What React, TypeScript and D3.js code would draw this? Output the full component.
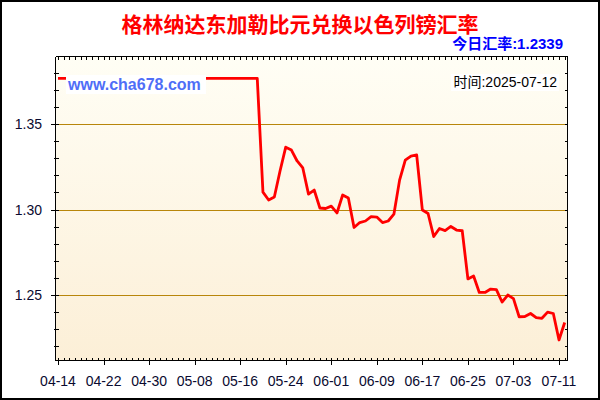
import React from 'react';
import * as d3 from 'd3';

// daily rates, 2025-04-14 .. 2025-07-12
const startDate = '2025-04-14';
const rates = [
  1.3767, 1.3767, 1.3767, 1.3767, 1.3767, 1.3767, 1.3767, 1.3767, 1.3767, 1.3767,
  1.3767, 1.3767, 1.3767, 1.3767, 1.3767, 1.3767, 1.3767, 1.3767, 1.3767, 1.3767,
  1.3767, 1.3767, 1.3767, 1.3767, 1.3767, 1.3767, 1.3767, 1.3767, 1.3767, 1.3767,
  1.3767, 1.3767, 1.3767, 1.3767, 1.3767, 1.3767,
  1.3102, 1.3056, 1.3073, 1.3225, 1.3365, 1.3348, 1.3284, 1.3243, 1.309, 1.3114,
  1.3009, 1.3006, 1.302, 1.298, 1.3085, 1.3067, 1.2895, 1.2924, 1.2933, 1.2959,
  1.2956, 1.2924, 1.2933, 1.2973, 1.3172, 1.3289, 1.3313, 1.3319, 1.2997, 1.2977,
  1.2842, 1.2889, 1.2877, 1.2901, 1.288, 1.2876, 1.2594, 1.2611, 1.2515, 1.2515,
  1.2535, 1.2532, 1.2459, 1.25, 1.2479, 1.2373, 1.2374, 1.2392, 1.2368, 1.2364,
  1.24, 1.2392, 1.2237, 1.2339,
];
const xTickLabels = ['04-14', '04-22', '04-30', '05-08', '05-16', '05-24', '06-01', '06-09', '06-17', '06-25', '07-03', '07-11'];
const yTickLabels = ['1.25', '1.30', '1.35'];
const title = '格林纳达东加勒比元兑换以色列镑汇率';
const todayText = '今日汇率:1.2339';
const siteText = 'www.cha678.com';
const timeText = '时间:2025-07-12';

export default function App() {
  const W = 600;
  const H = 400;
  const left = 55.5;
  const right = 567.5;
  const top = 56.5;
  const bottom = 360.5;

  const start = new Date(startDate + 'T00:00:00Z');
  const dates = rates.map((_, i) => d3.utcDay.offset(start, i));

  const x = d3
    .scaleUtc()
    .domain([start, new Date('2025-07-11T00:00:00Z')])
    .range([58, 559]);
  const y = d3.scaleLinear().domain([1.212, 1.3898]).range([360, 56]);
  // pixel-snapped positions for crisp 1px strokes
  const px = (v: number) => Math.round(v) + 0.5;

  const line = d3
    .line<number>()
    .x((d, i) => x(dates[i]))
    .y((d) => y(d));

  const majorDates = xTickLabels.map((s) => new Date('2025-' + s + 'T00:00:00Z'));
  const yMinor = d3.range(122, 139).map((v) => v / 100);
  const majorY = yTickLabels.map((s) => +s);

  const sans = '"Liberation Sans", Arial, "Noto Sans CJK SC", sans-serif';
  const cjk = '"Noto Sans CJK SC", "Liberation Sans", sans-serif';

  return (
    <svg
      width={W}
      height={H}
      style={{ position: 'absolute', left: 0, top: 0, display: 'block' }}
    >
      <defs>
        <linearGradient id="bg" x1="0" y1="0" x2="0" y2="1">
          <stop offset="0%" stopColor="#FFFEF5" />
          <stop offset="100%" stopColor="#FCEFD7" />
        </linearGradient>
      </defs>
      <rect x={0} y={0} width={W} height={H} fill="#fff" />
      <rect x={1} y={1} width={W - 2} height={H - 2} fill="none" stroke="#000" strokeWidth={2} />

      {/* plot background */}
      <rect x={left} y={top} width={right - left} height={bottom - top} fill="url(#bg)" />

      {/* grid lines */}
      <g shapeRendering="crispEdges">
        {majorY.map((v) => (
          <line key={'g' + v} x1={left} x2={right} y1={px(y(v))} y2={px(y(v))} stroke="#B8860B" strokeWidth={1} />
        ))}
      </g>

      {/* series */}
      <path d={line(rates) || ''} fill="none" stroke="#FF0000" strokeWidth={2.8} strokeLinejoin="round" />

      <g shapeRendering="crispEdges" stroke="#000">
        {/* axes frame */}
        <line x1={left} x2={left} y1={top} y2={bottom} />
        <line x1={right} x2={right} y1={top} y2={bottom} />
        <line x1={left} x2={right} y1={top} y2={top} />
        <line x1={left} x2={right} y1={bottom} y2={bottom} />

        {/* day ticks top and bottom */}
        {dates.map((d, i) => (
          <g key={'dt' + i}>
            <line x1={px(x(d))} x2={px(x(d))} y1={top} y2={top + 3} />
            <line x1={px(x(d))} x2={px(x(d))} y1={bottom - 3} y2={bottom} />
          </g>
        ))}
        {majorDates.map((d, i) => (
          <line key={'xm' + i} x1={px(x(d))} x2={px(x(d))} y1={bottom - 3} y2={bottom + 4} />
        ))}

        {/* value ticks left and right */}
        {yMinor.map((v) => (
          <g key={'ym' + v}>
            <line x1={left - 2} x2={left + 3} y1={px(y(v))} y2={px(y(v))} />
            <line x1={right - 3} x2={right} y1={px(y(v))} y2={px(y(v))} />
          </g>
        ))}
        {majorY.map((v) => (
          <line key={'yt' + v} x1={left - 5} x2={left} y1={px(y(v))} y2={px(y(v))} />
        ))}
      </g>

      {majorDates.map((d, i) => (
        <text
          key={'xl' + i}
          x={x(d)}
          y={386}
          textAnchor="middle"
          fontSize={14}
          fontFamily={sans}
          fill="#0a0a30"
        >
          {xTickLabels[i]}
        </text>
      ))}
      {majorY.map((v, i) => (
        <text key={'yl' + v} x={42} y={y(v) + 5} textAnchor="end" fontSize={14} fontFamily={sans} fill="#0a0a30">
          {yTickLabels[i]}
        </text>
      ))}

      {/* labels */}
      <text x={300} y={32} textAnchor="middle" fontSize={21} fontWeight="bold" fontFamily={cjk} fill="#FF0000">
        {title}
      </text>
      <text x={563} y={49} textAnchor="end" fontSize={15} fontWeight="bold" fontFamily={sans} fill="#0000FF">
        {todayText}
      </text>
      <rect x={66} y={75} width={140} height={19} fill="#fff" />
      <text x={68} y={90} fontSize={16} fontWeight="bold" fontFamily={sans} fill="#4F6EF7">
        {siteText}
      </text>
      <rect x={451} y={74} width={108} height={17} fill="#fff" />
      <text x={557} y={87} textAnchor="end" fontSize={14} fontFamily={sans} fill="#000">
        {timeText}
      </text>
    </svg>
  );
}
